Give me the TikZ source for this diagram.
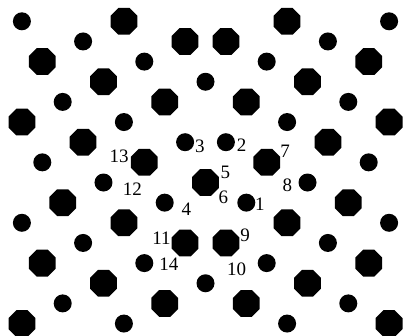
\documentclass[tikz,border=0pt]{standalone}
\usepackage{fontspec}
\setmainfont{Liberation Serif}
\usetikzlibrary{shapes.geometric}

\begin{document}
\begin{tikzpicture}[x=20.4pt,y=-20.15pt,
	bigatom/.style={regular polygon,regular polygon sides=8,fill=black,inner sep=0pt,minimum size=29pt},
	smallatom/.style={circle,fill=black,inner sep=0pt,minimum size=18pt},
	num/.style={inner sep=0pt,font=\fontsize{19}{20}\selectfont}]
			
			\useasboundingbox (-205.5pt,182.5pt) rectangle (200.5pt,-152.5pt);
			\clip (-205.5pt,182.5pt) rectangle (200.5pt,-152.5pt);
			
			\foreach \i in {-9,...,9}
			\foreach \j in {-8,...,7}{
				\pgfmathtruncatemacro{\p}{mod(3*abs(\i)-\j+100,10)}
				\pgfmathtruncatemacro{\atx}{\i+9}
				\pgfmathtruncatemacro{\aty}{\j+8}
				\ifnum\p=0 \node[bigatom] (a\atx x\aty) at (\i,\j) {};\fi
				\ifnum\p=5 \node[smallatom] (a\atx x\aty) at (\i,\j) {};\fi
			}
			
			\node[num] (n1) at (2.67,1.10) {1};
			\node[num] (n2) at (1.77,-1.84) {2};
			\node[num] (n3) at (-0.28,-1.82) {3};
			\node[num] (n4) at (-0.94,1.35) {4};
			\node[num] (n5) at (0.97,-0.52) {5};
			\node[num] (n6) at (0.88,0.72) {6};
			\node[num] (n7) at (3.90,-1.55) {7};
			\node[num] (n8) at (4.01,0.15) {8};
			\node[num] (n9) at (1.94,2.64) {9};
			\node[num] (n10) at (1.52,4.31) {10};
			\node[num] (n11) at (-2.16,2.75) {11};
			\node[num] (n12) at (-3.58,0.31) {12};
			\node[num] (n13) at (-4.23,-1.32) {13};
			\node[num] (n14) at (-1.80,4.07) {14};
			
		\end{tikzpicture}
\end{document}
